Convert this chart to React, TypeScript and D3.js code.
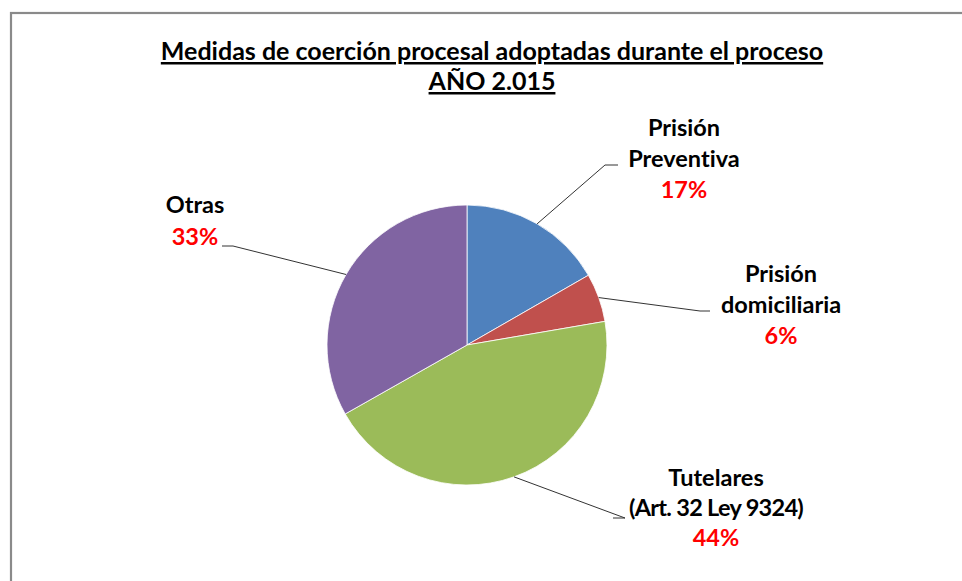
import React from "react";
import * as d3 from "d3";

const categories = ["Prisión Preventiva", "Prisión domiciliaria", "Tutelares (Art. 32 Ley 9324)", "Otras"];
const values = [16.7, 5.6, 44.5, 33.2];
const percentLabels = ["17%", "6%", "44%", "33%"];
const labelLines = [
  ["Prisión", "Preventiva"],
  ["Prisión", "domiciliaria"],
  ["Tutelares", "(Art. 32 Ley 9324)"],
  ["Otras"],
];
const colors = ["#4F81BD", "#C0504D", "#9BBB59", "#8064A2"];
const titleLines = ["Medidas de coerción procesal adoptadas durante el proceso", "AÑO 2.015"];

// layout (label anchor: center x, first baseline y, leader elbow end)
const layout = [
  { x: 684, y: 136, lineH: 31, ls: 0, elbow: [605, 165], end: [618, 165] },
  { x: 781, y: 282, lineH: 31, ls: 0, elbow: [700, 311], end: [710, 311] },
  { x: 716, y: 486, lineH: 30, ls: -0.7, elbow: [625, 518], end: [613, 518] },
  { x: 195, y: 213, lineH: 32, ls: 0, elbow: [233, 246], end: [222, 246] },
];

export default function App() {
  const W = 962, H = 581;
  const cx = 467, cy = 345, r = 140;
  const pie = d3.pie<number>().sort(null).value((d) => d);
  const arcs = pie(values);
  const arc = d3.arc<d3.PieArcDatum<number>>().innerRadius(0).outerRadius(r);
  const edge = d3.arc<d3.PieArcDatum<number>>().innerRadius(r).outerRadius(r);
  const font = "Lato, 'Open Sans', sans-serif";

  return (
    <svg width={W} height={H} style={{ position: "absolute", left: 0, top: 0, background: "#fff", fontVariantLigatures: "none" }}>
      <rect x={11} y={13} width={1000} height={1000} fill="#fff" stroke="#8a8a8a" strokeWidth={2.2} />
      <g fontFamily={font} fontWeight={700} fill="#000" textAnchor="middle">
        {titleLines.map((t, i) => (
          <text key={i} x={492} y={60 + i * 30} fontSize={25} textDecoration="underline">
            {t}
          </text>
        ))}
      </g>
      <g transform={`translate(${cx},${cy})`}>
        {arcs.map((a, i) => (
          <path key={i} d={arc(a) || ""} fill={colors[i]} stroke="#fff" strokeWidth={0.8} />
        ))}
      </g>
      {arcs.map((a, i) => {
        const [ex, ey] = edge.centroid(a);
        const L = layout[i];
        return (
          <polyline
            key={"l" + i}
            points={`${cx + ex},${cy + ey} ${L.elbow[0]},${L.elbow[1]} ${L.end[0]},${L.end[1]}`}
            fill="none"
            stroke="#333"
            strokeWidth={1}
          />
        );
      })}
      <g fontFamily={font} fontWeight={700} fontSize={23.5} textAnchor="middle">
        {layout.map((L, i) => (
          <text key={"t" + i} aria-label={categories[i]}>
            {labelLines[i].map((s, j) => (
              <tspan key={j} x={L.x} y={L.y + j * L.lineH} fill="#000" letterSpacing={j === 1 ? L.ls : 0}>
                {s}
              </tspan>
            ))}
            <tspan x={L.x} y={L.y + labelLines[i].length * L.lineH} fill="#FF0000" letterSpacing={0}>
              {percentLabels[i]}
            </tspan>
          </text>
        ))}
      </g>
    </svg>
  );
}
